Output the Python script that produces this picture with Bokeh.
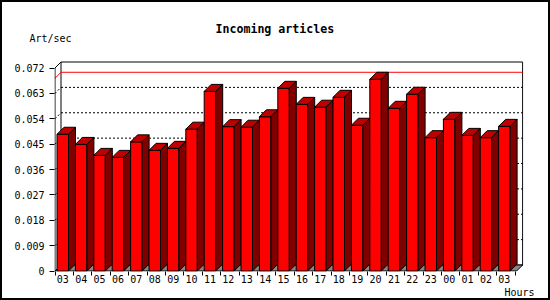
from bokeh.plotting import figure
from bokeh.models import Range1d, FixedTicker, Title
from bokeh.embed import file_html
from bokeh.resources import INLINE

# ---- data ----
hours = ["03", "04", "05", "06", "07", "08", "09", "10", "11", "12", "13", "14", "15",
         "16", "17", "18", "19", "20", "21", "22", "23", "00", "01", "02", "03"]
values = [0.0485, 0.0449, 0.0410, 0.0403, 0.0458, 0.0428, 0.0435, 0.0503, 0.0637,
          0.0512, 0.0510, 0.0547, 0.0648, 0.0591, 0.0581, 0.0616, 0.0517, 0.0680,
          0.0577, 0.0627, 0.0473, 0.0538, 0.0481, 0.0473, 0.0513]
yticks = [0, 0.009, 0.018, 0.027, 0.036, 0.045, 0.054, 0.063, 0.072]
ytick_labels = ["0", "0.009", "0.018", "0.027", "0.036", "0.045", "0.054", "0.063", "0.072"]
title_text = "Incoming articles"
y_title = "Art/sec"
x_title = "Hours"

# ---- geometry (pixels -> data units) ----
PPX = 18.4      # px per category
PPY = 2819.4    # px per Art/sec
x_start = -2.5 / PPX
x_end = x_start + 469 / PPX
y_start = -0.5 / PPY
y_end = y_start + 211 / PPY

AXIS_X = -2 / PPX
BAR_W = 0.625
BAR_DX, BAR_DY = 7 / PPX, 7 / PPY
WALL_DX, WALL_DY = 6 / PPX, 6 / PPY
n = len(values)
FLOOR_R = n - 0.02
WALL_L = AXIS_X + WALL_DX
WALL_R = FLOOR_R + WALL_DX
YTOP = yticks[-1]

FONT = "DejaVu Sans Mono"

p = figure(width=550, height=300, x_range=Range1d(x_start, x_end),
           y_range=Range1d(y_start, y_end), output_backend="svg", title=None,
           toolbar_location=None, min_border_left=54, min_border_right=27,
           min_border_top=60, min_border_bottom=29)
# transparent canvas edges so the host's outline (the black image frame) shows
p.styles = {"outline": "2px solid black", "outline-offset": "-2px",
            "background-color": "white"}
p.outline_line_color = None
p.xgrid.visible = False
p.ygrid.visible = False
p.background_fill_color = None
p.border_fill_color = None

# titles: first added is nearest the frame
p.add_layout(Title(text=y_title, align="left", offset=-25, standoff=34,
                   text_font=FONT, text_font_style="normal", text_font_size="10px",
                   text_color="black"), "above")
p.add_layout(Title(text=title_text, align="left", offset=161, standoff=-44,
                   text_font=FONT, text_font_style="bold", text_font_size="11.6px",
                   text_color="black"), "above")

# back wall
p.quad(left=WALL_L, right=WALL_R, bottom=WALL_DY, top=YTOP + WALL_DY,
       fill_color="white", line_color="black", line_width=1)

mid = yticks[1:-1]
p.segment(x0=[WALL_L] * len(mid), y0=[v + WALL_DY for v in mid],
          x1=[WALL_R] * len(mid), y1=[v + WALL_DY for v in mid],
          line_color="black", line_dash="2 2", line_width=1)
p.segment(x0=[AXIS_X] * len(mid), y0=mid,
          x1=[WALL_L] * len(mid), y1=[v + WALL_DY for v in mid],
          line_color="black", line_dash="2 2", line_width=1)

# max line
vmax = max(values)
p.line(x=[AXIS_X, WALL_L, WALL_R],
       y=[vmax + BAR_DY - WALL_DY, vmax + BAR_DY, vmax + BAR_DY],
       line_color="#FF0000", line_width=1)

# floor
p.patch(x=[AXIS_X, FLOOR_R, WALL_R, WALL_L], y=[0, 0, WALL_DY, WALL_DY],
        fill_color="#888888", line_color="black", line_width=1)

# bars (front, top, side), painted left to right
xs, ys, cols = [], [], []
for i, v in enumerate(values):
    xs.append([i, i + BAR_W, i + BAR_W, i])
    ys.append([0, 0, v, v])
    cols.append("#FF0000")
    xs.append([i, i + BAR_W, i + BAR_W + BAR_DX, i + BAR_DX])
    ys.append([v, v, v + BAR_DY, v + BAR_DY])
    cols.append("#C00000")
    xs.append([i + BAR_W, i + BAR_W + BAR_DX, i + BAR_W + BAR_DX, i + BAR_W])
    ys.append([0, BAR_DY, v + BAR_DY, v])
    cols.append("#800000")
p.patches(xs=xs, ys=ys, fill_color=cols, line_color="black", line_width=1)

# front axis line
p.line(x=[AXIS_X, AXIS_X, WALL_L], y=[0, YTOP, YTOP + WALL_DY],
       line_color="black", line_width=1)

# axes
xa = p.xaxis[0]
xa.ticker = FixedTicker(ticks=[i + BAR_W / 2 for i in range(n)],
                        minor_ticks=[AXIS_X + k for k in range(n + 1)])
xa.major_label_overrides = {i + BAR_W / 2: h for i, h in enumerate(hours)}
xa.axis_line_color = None
xa.major_tick_line_color = None
xa.major_tick_out = 0
xa.major_tick_in = 0
xa.minor_tick_line_color = "black"
xa.minor_tick_out = 4
xa.minor_tick_in = 0
xa.major_label_standoff = -1
xa.major_label_text_font = FONT
xa.major_label_text_font_size = "10px"
xa.major_label_text_color = "black"

ya = p.yaxis[0]
ya.ticker = FixedTicker(ticks=yticks, minor_ticks=[])
ya.major_label_overrides = {v: s for v, s in zip(yticks, ytick_labels)}
ya.axis_line_color = None
ya.major_tick_line_color = "black"
ya.major_tick_out = 5
ya.major_tick_in = 0
ya.minor_tick_line_color = None
ya.major_label_standoff = 5
ya.major_label_text_font = FONT
ya.major_label_text_font_size = "10px"
ya.major_label_text_color = "black"

p.add_layout(Title(text=x_title, align="right", offset=-11, standoff=-2,
                   text_font=FONT, text_font_style="normal", text_font_size="10px",
                   text_color="black"), "below")

open("out.html", "w").write(file_html(p, INLINE))
